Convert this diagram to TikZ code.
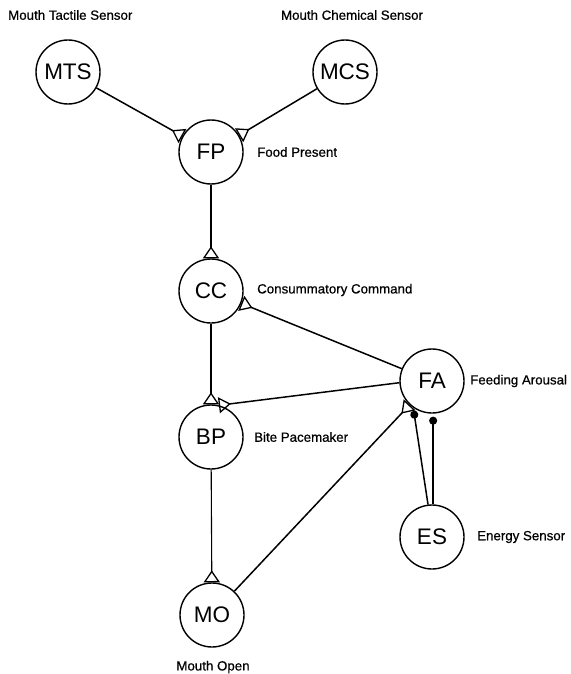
\documentclass[tikz,border=0pt]{standalone}
\usepackage{fontspec}
\setmainfont{Liberation Sans}
\newfontfamily\tagfont[FakeBold=0.6]{Liberation Sans}
\usetikzlibrary{arrows.meta}
\begin{document}
\begin{tikzpicture}[x=1pt,y=-1pt,
  unit/.style={circle, draw, line width=1.4pt, minimum size=64pt, inner sep=0pt,
               font=\fontsize{22.5}{23}\selectfont},
  tag/.style={font=\tagfont\fontsize{13.3}{14}\selectfont, inner sep=0pt},
  excite/.style={line width=1.5pt,
                 -{Triangle[open, reversed, length=12pt, width=16pt, line width=1.3pt]}},
  inhibit/.style={line width=1.5pt, -{Circle[length=8pt]}, shorten >=3pt}]
\useasboundingbox (0,0) rectangle (570,674);

% neurons
\node[unit] (MTS) at (68,72)   {MTS};
\node[unit] (MCS) at (345,72)  {MCS};
\node[unit] (FP)  at (211,152) {FP};
\node[unit] (CC)  at (211,291) {CC};
\node[unit] (FA)  at (432,381) {FA};
\node[unit] (BP)  at (211,437) {BP};
\node[unit] (ES)  at (432,537) {ES};
\node[unit] (MO)  at (212,615) {MO};

% names
\node[tag, anchor=west] (tMTS) at (8,15)    {Mouth Tactile Sensor};
\node[tag]              (tMCS) at (352,15)  {Mouth Chemical Sensor};
\node[tag, anchor=west] (tFP)  at (257,152) {Food Present};
\node[tag, anchor=west] (tCC)  at (257,290) {Consummatory Command};
\node[tag, anchor=west] (tFA)  at (470,381) {Feeding Arousal};
\node[tag, anchor=west] (tBP)  at (254,437) {Bite Pacemaker};
\node[tag, anchor=west] (tES)  at (477,537) {Energy Sensor};
\node[tag]              (tMO)  at (213,667) {Mouth Open};

% excitatory links
\draw[excite] (MTS) -- (FP);
\draw[excite] (MCS) -- (FP);
\draw[excite] (FP) -- (CC);
\draw[excite] (FA) -- (CC);
\draw[excite] (CC) -- (BP);
\draw[excite] (FA.183) -- (BP.76);
\draw[excite, line width=1.1pt] (BP) -- (MO);
\draw[excite] (MO) -- (FA);

% inhibitory links
\draw[inhibit] (ES.97) -- (FA.235);
\draw[inhibit] (ES.88) -- (FA.272);
\end{tikzpicture}
\end{document}
